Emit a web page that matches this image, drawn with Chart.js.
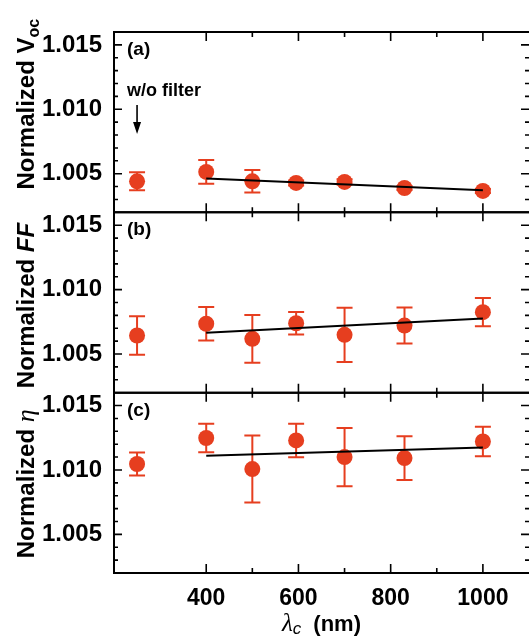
<!DOCTYPE html>
<html>
<head>
<meta charset="utf-8">
<script src="https://cdn.jsdelivr.net/npm/chart.js@4.4.1/dist/chart.umd.min.js"></script>
<style>
  html, body { margin: 0; padding: 0; background: #fff; }
  canvas { display: block; }
</style>
</head>
<body>
<canvas id="chart" width="529" height="644"></canvas>
<script>
// cut-off wavelength of the long-pass filter (nm); the first point is the cell without filter
const wavelengths = [250, 400, 500, 595, 700, 830, 1000];

const vocValues = [1.00441, 1.00514, 1.00441, 1.00428, 1.00436, 1.00389, 1.00366];
const vocErrors = [0.0007, 0.00093, 0.00087, 0.0002, 0.0002, 0.00015, 0.00015];
const ffValues  = [1.00644, 1.00735, 1.00618, 1.00739, 1.00649, 1.00721, 1.00825];
const ffErrors  = [0.0015, 0.0013, 0.00185, 0.00088, 0.0021, 0.0014, 0.0011];
const etaValues = [1.01046, 1.01248, 1.01007, 1.01229, 1.0110, 1.01092, 1.01221];
const etaErrors = [0.0009, 0.0011, 0.0026, 0.0013, 0.00226, 0.0017, 0.00115];

// linear fits over the filtered points
const fitRange = [400, 1000];
const vocFit = [1.00462, 1.00371];
const ffFit  = [1.00665, 1.00775];
const etaFit = [1.0111, 1.01175];

const xTicks = [400, 600, 800, 1000];
const xMinorTicks = [500, 700, 900];
const yTicks = [1.005, 1.010, 1.015];
const yMinorTicks = [1.003, 1.004, 1.006, 1.007, 1.008, 1.009, 1.011, 1.012, 1.013, 1.014];

const RED = '#e63e1f';
const SANS = '"Liberation Sans", Arial, sans-serif';
const SERIF = '"Liberation Serif", "Times New Roman", serif';

function pointSet(values, errors, axis) {
  return {
    yAxisID: axis,
    data: wavelengths.map((w, i) => ({ x: w, y: values[i] })),
    errors: errors,
    backgroundColor: RED,
    borderWidth: 0,
    pointRadius: 8,
    showLine: false
  };
}

function fitSet(values, axis) {
  return {
    yAxisID: axis,
    data: fitRange.map((w, i) => ({ x: w, y: values[i] })),
    borderColor: '#000',
    borderWidth: 2,
    pointRadius: 0,
    showLine: true,
    fill: false
  };
}

function drawRuns(ctx, runs, x, y, angle) {
  ctx.save();
  ctx.translate(x, y);
  ctx.rotate(angle);
  ctx.textAlign = 'left';
  ctx.textBaseline = 'alphabetic';
  ctx.fillStyle = '#000';
  let total = 0;
  runs.forEach(r => {
    ctx.font = r.font;
    r.w = ctx.measureText(r.text).width + (r.gap || 0);
    total += r.w;
  });
  let cx = -total / 2;
  runs.forEach(r => {
    ctx.font = r.font;
    ctx.fillText(r.text, cx + (r.gap || 0), r.dy || 0);
    cx += r.w;
  });
  ctx.restore();
}

const panels = [
  { id: 'yA', tag: '(a)', shift: -18,
    title: [
      { text: 'Normalized ', font: 'bold 24px ' + SANS },
      { text: 'V', font: 'bold 24px ' + SANS },
      { text: 'oc', font: 'bold 16px ' + SANS, dy: 5 }
    ] },
  { id: 'yB', tag: '(b)', shift: 3,
    title: [
      { text: 'Normalized ', font: 'bold 24px ' + SANS },
      { text: 'FF', font: 'italic bold 24px ' + SANS }
    ] },
  { id: 'yC', tag: '(c)', shift: 1,
    title: [
      { text: 'Normalized ', font: 'bold 24px ' + SANS },
      { text: '\u03b7', font: 'italic 26px ' + SERIF }
    ] }
];

// frames, inward ticks, error bars and annotations
const panelDecor = {
  id: 'panelDecor',
  beforeDatasetsDraw(chart) {
    const ctx = chart.ctx;
    const xs = chart.scales.x;
    chart.data.datasets.forEach(ds => {
      if (!ds.errors) return;
      const ys = chart.scales[ds.yAxisID];
      ctx.save();
      ctx.strokeStyle = RED;
      ctx.lineWidth = 2;
      ctx.beginPath();
      ds.data.forEach((p, j) => {
        const px = xs.getPixelForValue(p.x);
        const top = ys.getPixelForValue(p.y + ds.errors[j]);
        const bot = ys.getPixelForValue(p.y - ds.errors[j]);
        ctx.moveTo(px, top); ctx.lineTo(px, bot);
        ctx.moveTo(px - 8, top); ctx.lineTo(px + 8, top);
        ctx.moveTo(px - 8, bot); ctx.lineTo(px + 8, bot);
      });
      ctx.stroke();
      ctx.restore();
    });
  },
  afterDraw(chart) {
    const ctx = chart.ctx;
    const xs = chart.scales.x;
    const L = chart.chartArea.left, R = chart.chartArea.right;
    ctx.save();
    ctx.strokeStyle = '#000';
    panels.forEach(pn => {
      const s = chart.scales[pn.id];
      const T = s.top, B = s.bottom;
      ctx.lineWidth = 2;
      ctx.beginPath();
      ctx.moveTo(R, T); ctx.lineTo(L, T); ctx.lineTo(L, B); ctx.lineTo(R, B);
      ctx.stroke();
      ctx.lineWidth = 1.6;
      ctx.beginPath();
      yTicks.forEach(v => {
        const p = s.getPixelForValue(v);
        ctx.moveTo(L, p); ctx.lineTo(L + 8, p);
        ctx.moveTo(R, p); ctx.lineTo(R - 8, p);
      });
      yMinorTicks.forEach(v => {
        const p = s.getPixelForValue(v);
        ctx.moveTo(L, p); ctx.lineTo(L + 4, p);
        ctx.moveTo(R, p); ctx.lineTo(R - 4, p);
      });
      xTicks.forEach(v => {
        const p = xs.getPixelForValue(v);
        ctx.moveTo(p, T); ctx.lineTo(p, T + 9);
        ctx.moveTo(p, B); ctx.lineTo(p, B - 9);
      });
      xMinorTicks.forEach(v => {
        const p = xs.getPixelForValue(v);
        ctx.moveTo(p, T); ctx.lineTo(p, T + 5);
        ctx.moveTo(p, B); ctx.lineTo(p, B - 5);
      });
      ctx.stroke();

      ctx.fillStyle = '#000';
      ctx.font = 'bold 19px ' + SANS;
      ctx.textAlign = 'left';
      ctx.textBaseline = 'alphabetic';
      ctx.fillText(pn.tag, L + 13, T + 23);

      drawRuns(ctx, pn.title, 34, (T + B) / 2 + pn.shift, -Math.PI / 2);
    });

    // "w/o filter" marker in panel (a)
    const ax = xs.getPixelForValue(wavelengths[0]);
    ctx.font = 'bold 18px ' + SANS;
    ctx.fillText('w/o filter', L + 13, 96);
    ctx.lineWidth = 1.6;
    ctx.beginPath();
    ctx.moveTo(ax, 105); ctx.lineTo(ax, 124);
    ctx.stroke();
    ctx.beginPath();
    ctx.moveTo(ax - 4, 122); ctx.lineTo(ax + 4, 122); ctx.lineTo(ax, 134);
    ctx.closePath();
    ctx.fill();

    drawRuns(ctx, [
      { text: '\u03bb', font: 'italic 25px ' + SERIF },
      { text: 'c', font: 'italic 17px ' + SANS, dy: 3 },
      { text: '(nm)', font: 'bold 22px ' + SANS, gap: 12 }
    ], (L + R) / 2, 631, 0);
    ctx.restore();
  }
};

function yScale(weight) {
  return {
    type: 'linear',
    position: 'left',
    stack: 'panels',
    stackWeight: 1,
    weight: weight,
    min: 1.002,
    max: 1.016,
    grid: { display: false },
    border: { display: false },
    ticks: {
      color: '#000',
      padding: 4,
      font: { family: SANS, size: 24, weight: 'bold' },
      callback: v => v.toFixed(3)
    },
    afterBuildTicks: s => { s.ticks = yTicks.map(v => ({ value: v })); },
    afterFit: s => { s.width = 114; }
  };
}

new Chart(document.getElementById('chart'), {
  type: 'scatter',
  data: {
    datasets: [
      fitSet(vocFit, 'yA'),
      fitSet(ffFit, 'yB'),
      fitSet(etaFit, 'yC'),
      pointSet(vocValues, vocErrors, 'yA'),
      pointSet(ffValues, ffErrors, 'yB'),
      pointSet(etaValues, etaErrors, 'yC')
    ]
  },
  options: {
    responsive: false,
    animation: false,
    layout: { autoPadding: false, padding: { top: 32, left: 0, right: 0, bottom: 0 } },
    plugins: { legend: { display: false }, tooltip: { enabled: false } },
    scales: {
      x: {
        type: 'linear',
        min: 200,
        max: 1100,
        grid: { display: false },
        border: { display: false },
        ticks: {
          color: '#000',
          padding: 4,
          font: { family: SANS, size: 23, weight: 'bold' },
          callback: v => String(v)
        },
        afterBuildTicks: s => { s.ticks = xTicks.map(v => ({ value: v })); },
        afterFit: s => { s.height = 71; }
      },
      yA: yScale(3),
      yB: yScale(2),
      yC: yScale(1)
    }
  },
  plugins: [panelDecor]
});
</script>
</body>
</html>
